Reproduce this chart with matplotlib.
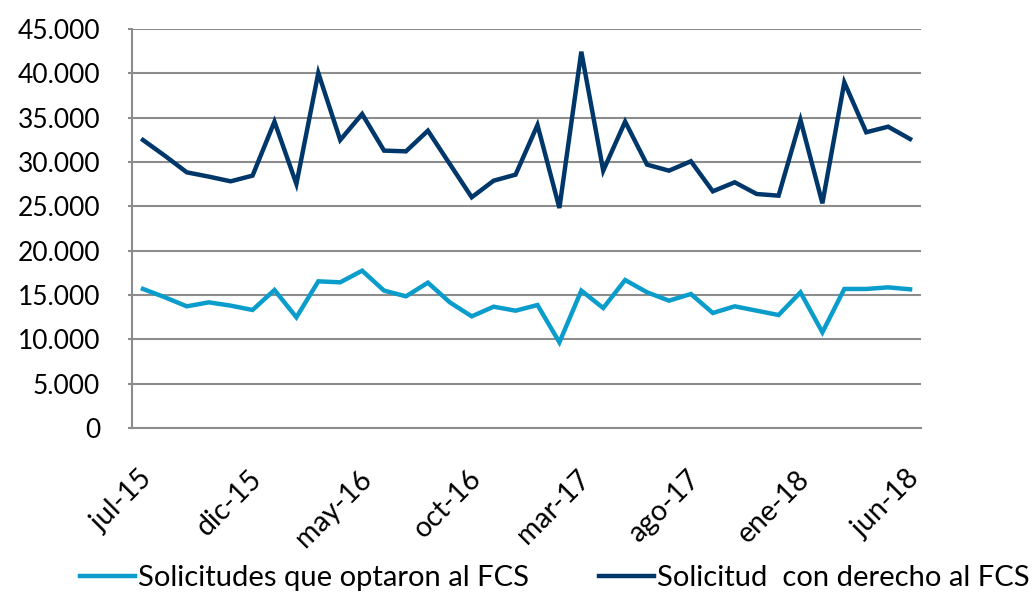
import matplotlib
matplotlib.use("Agg")
import matplotlib.pyplot as plt
import matplotlib.transforms as mtransforms

# monthly series jul-15 .. jun-18
months = ["jul-15", "ago-15", "sep-15", "oct-15", "nov-15", "dic-15",
          "ene-16", "feb-16", "mar-16", "abr-16", "may-16", "jun-16",
          "jul-16", "ago-16", "sep-16", "oct-16", "nov-16", "dic-16",
          "ene-17", "feb-17", "mar-17", "abr-17", "may-17", "jun-17",
          "jul-17", "ago-17", "sep-17", "oct-17", "nov-17", "dic-17",
          "ene-18", "feb-18", "mar-18", "abr-18", "may-18", "jun-18"]

optaron = [15680, 14740, 13720, 14170, 13800, 13310, 15560, 12480, 16540, 16430,
           17740, 15490, 14850, 16390, 14170, 12590, 13680, 13230, 13870, 9660,
           15490, 13530, 16690, 15300, 14360, 15110, 12970, 13720, 13230, 12740,
           15300, 10790, 15680, 15680, 15860, 15640]

derecho = [32480, 30700, 28830, 28350, 27820, 28460, 34550, 27520, 40040, 32480,
           35410, 31280, 31200, 33530, 29770, 26020, 27890, 28570, 34170, 24810,
           42440, 29020, 34550, 29700, 29020, 30080, 26690, 27710, 26390, 26200,
           34740, 25340, 38980, 33350, 33980, 32590]

series_names = ["Solicitudes que optaron al FCS", "Solicitud  con derecho al FCS"]
y_ticks = [0, 5000, 10000, 15000, 20000, 25000, 30000, 35000, 40000, 45000]
y_labels = ["0", "5.000", "10.000", "15.000", "20.000", "25.000",
            "30.000", "35.000", "40.000", "45.000"]

light = "#0a9dcc"
dark = "#00376b"
grid_c = "#8c8c8c"

plt.rcParams['font.family'] = ['Lato', 'DejaVu Sans']

fig = plt.figure(figsize=(10.33, 5.95), dpi=100)
ax = fig.add_axes([0.1278, 0.2807, 0.7638, 0.6706])

x = list(range(len(months)))
ax.plot(x, optaron, color=light, lw=3.2, label=series_names[0], solid_joinstyle='miter')
ax.plot(x, derecho, color=dark, lw=3.2, label=series_names[1], solid_joinstyle='miter')

ax.set_xlim(-0.5, len(months) - 0.5)
ax.set_ylim(0, 45000)
ax.set_yticks(y_ticks)
ax.set_yticklabels(y_labels)
ax.yaxis.grid(True, color=grid_c, lw=1.5)
ax.set_axisbelow(True)

tick_idx = x[::5]
ax.set_xticks(tick_idx)
ax.set_xticklabels([months[i] for i in tick_idx], rotation=45, ha='right',
                   rotation_mode='anchor')

ax.tick_params(axis='y', length=3, color=grid_c, width=1.5, pad=20, labelsize=19)
ax.tick_params(axis='x', length=0, pad=27, labelsize=20.5)

# small horizontal nudge of the rotated labels
offset = mtransforms.ScaledTranslation(-3 / 72, 0, fig.dpi_scale_trans)
for lab in ax.get_xticklabels():
    lab.set_transform(lab.get_transform() + offset)

for s in ['top', 'right']:
    ax.spines[s].set_visible(False)
for s in ['left', 'bottom']:
    ax.spines[s].set_color(grid_c)
    ax.spines[s].set_linewidth(1.5)

fig.legend(loc='center', bbox_to_anchor=(0.537, 0.029), ncol=2, frameon=False,
           fontsize=21, handlelength=1.9, handletextpad=0.1, columnspacing=2.4)

fig.savefig("out.png", dpi=100)
